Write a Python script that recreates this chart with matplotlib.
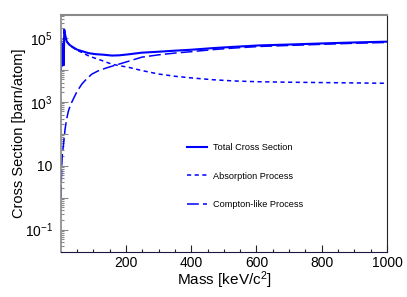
import matplotlib
matplotlib.use("Agg")
import matplotlib.pyplot as plt
from matplotlib.ticker import FixedLocator, NullFormatter, MultipleLocator, FixedFormatter

plt.rcParams['font.family'] = ['Liberation Sans', 'DejaVu Sans']
plt.rcParams['mathtext.fontset'] = 'custom'
plt.rcParams['mathtext.rm'] = 'Liberation Sans'
plt.rcParams['mathtext.it'] = 'Liberation Sans:italic'
plt.rcParams['mathtext.bf'] = 'Liberation Sans:bold'
plt.rcParams['lines.scale_dashes'] = False

# ---- data ----
mass_abs = [1, 1.5, 2.5, 4, 6, 8, 9.5, 11, 15, 19, 27, 35, 50, 65, 85, 106, 130, 157,
            180, 208, 249, 300, 350, 400, 467, 530, 602, 700, 800, 900, 1000]
absorption = [1.0e4, 8.0e4, 1.3e4, 6.3e4, 1.6e4, 5.0e4, 1.4e4, 1.8e5, 1.05e5, 7.6e4,
              6.0e4, 5.2e4, 4.1e4, 3.5e4, 2.75e4, 2.3e4, 1.9e4, 1.5e4,
              1.35e4, 1.2e4, 9.5e3, 7.4e3, 6.3e3, 5.6e3, 4.9e3, 4.5e3, 4.25e3, 4.1e3,
              4.0e3, 3.9e3, 3.8e3]

mass_comp = [1, 2, 3.1, 5, 8, 13.3, 18, 23.4, 30, 40, 50, 65, 80, 96, 115, 137, 157,
             173, 208, 249, 300, 350, 400, 467, 530, 611, 700, 800, 900, 1000]
compton = [1.0, 4.0, 9.5, 22, 40, 135, 280, 500, 800, 1.3e3, 2.1e3, 3.6e3, 5.3e3,
           7.4e3, 9.3e3, 1.12e4, 1.3e4, 1.45e4, 1.86e4, 2.5e4, 2.95e4, 3.35e4, 3.7e4,
           4.3e4, 4.8e4, 5.4e4, 5.8e4, 6.3e4, 6.8e4, 7.2e4]

mass_tot = [1, 1.5, 2.5, 4, 6, 8, 9.5, 11, 15, 19, 27, 35, 50, 65, 85, 106, 130, 157,
            180, 208, 249, 300, 350, 400, 467, 530, 611, 700, 800, 900, 1000]
total = [1.0e4, 8.0e4, 1.3e4, 6.3e4, 1.6e4, 5.0e4, 1.4e4, 1.8e5, 1.05e5, 7.6e4,
         6.07e4, 5.3e4, 4.3e4, 3.86e4, 3.34e4, 3.1e4, 2.98e4, 2.8e4,
         2.85e4, 3.06e4, 3.45e4, 3.69e4, 3.98e4, 4.26e4, 4.79e4, 5.25e4, 5.83e4, 6.2e4,
         6.7e4, 7.2e4, 7.62e4]

labels = ["Total Cross Section", "Absorption Process", "Compton-like Process"]
xticks_major = [200, 400, 600, 800, 1000]
ytick_labeled = [1e-1, 1e1, 1e3, 1e5]
ytick_labels = [r"$10^{-1}$", "10", r"$10^{3}$", r"$10^{5}$"]
ytick_decades = [1e-1, 1e0, 1e1, 1e2, 1e3, 1e4, 1e5]

fig = plt.figure(figsize=(4.07, 2.97), dpi=100)
ax = fig.add_axes([61/407, 1-252/297, 326/407, 237/297])

ax.plot(mass_tot, total, color='blue', lw=1.5, label=labels[0])
ax.plot(mass_abs, absorption, color='blue', lw=1.1, dashes=(3, 2.5), label=labels[1])
ax.plot(mass_comp, compton, color='blue', lw=1.1, dashes=(8.5, 3), label=labels[2])

ax.set_yscale('log')
ax.set_xlim(1, 1000)
ax.set_ylim(0.02, 5.2e5)

ax.xaxis.set_major_locator(FixedLocator(xticks_major))
ax.xaxis.set_minor_locator(MultipleLocator(50))
ax.tick_params(axis='x', which='major', direction='in', length=5, width=0.8,
               color='#222', labelsize=10, pad=3, top=False)
ax.tick_params(axis='x', which='minor', direction='in', length=2.5, width=0.8,
               color='#222', top=False)

minors = []
for d in ytick_decades:
    for k in range(2, 10):
        v = d * k
        if v < 5.2e5:
            minors.append(v)
minors += [0.02, 0.03, 0.04, 0.05, 0.06, 0.07, 0.08, 0.09]
ax.yaxis.set_major_locator(FixedLocator(ytick_decades))
ax.yaxis.set_major_formatter(FixedFormatter(["" if v not in ytick_labeled else
                                             ytick_labels[ytick_labeled.index(v)]
                                             for v in ytick_decades]))
ax.yaxis.set_minor_locator(FixedLocator(minors))
ax.yaxis.set_minor_formatter(NullFormatter())
ax.tick_params(axis='y', which='major', direction='in', length=5, width=0.8,
               color='#888', labelsize=10, pad=6, right=False)
ax.tick_params(axis='y', which='minor', direction='in', length=2.5, width=0.8,
               color='#888', right=False)

ax.spines['top'].set_color('#888')
ax.spines['left'].set_color('#888')
ax.spines['top'].set_linewidth(1.5)
ax.spines['left'].set_linewidth(1.2)
ax.spines['bottom'].set_color('#1a1a40')
ax.spines['right'].set_color('#222')

ax.set_xlabel(r"Mass [keV/c$^{2}$]", fontsize=11)
ax.set_ylabel("Cross Section [barn/atom]", fontsize=10.5)
ax.xaxis.set_label_coords(0.5, -0.118)
ax.xaxis.label.set_va('center')
ax.yaxis.set_label_coords(-0.13, 0.50)
ax.yaxis.label.set_va('center')
ax.yaxis.label.set_ha('center')

ax.legend(loc='upper left', bbox_to_anchor=(187/407, 1-143/297),
          bbox_transform=fig.transFigure, frameon=False, fontsize=6.6,
          handlelength=2.2, handletextpad=0.65, labelspacing=2.15, borderpad=0,
          borderaxespad=0)

fig.savefig("out.png", dpi=100)
